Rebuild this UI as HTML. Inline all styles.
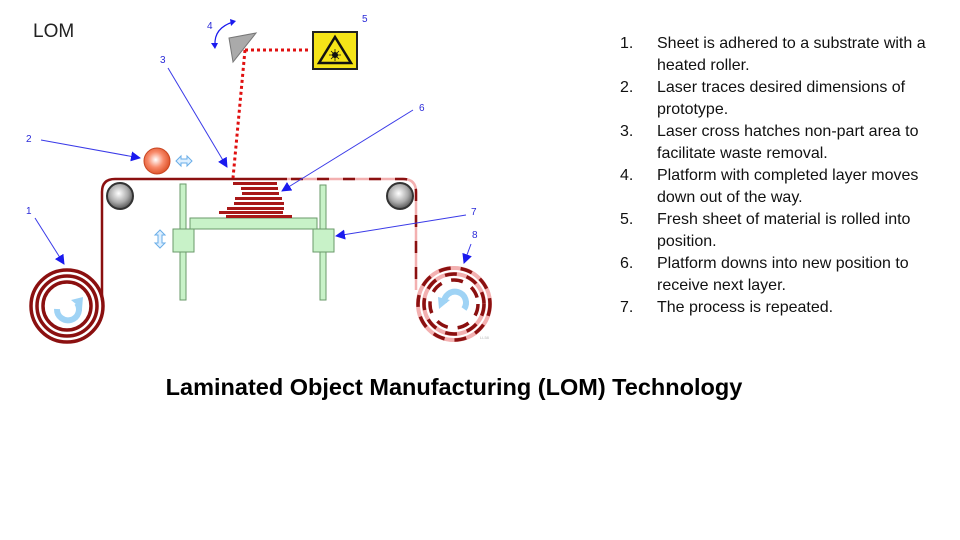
<!DOCTYPE html>
<html><head><meta charset="utf-8"><style>
html,body{margin:0;padding:0;background:#fff;}
svg{display:block;}
</style></head><body>
<svg width="960" height="540" viewBox="0 0 960 540" xmlns="http://www.w3.org/2000/svg" font-family="Liberation Sans, sans-serif">
<defs>
<radialGradient id="gr" cx="0.45" cy="0.4" r="0.6"><stop offset="0" stop-color="#fff"/><stop offset="0.6" stop-color="#aaa"/><stop offset="1" stop-color="#555"/></radialGradient>
<radialGradient id="orr" cx="0.45" cy="0.45" r="0.6"><stop offset="0" stop-color="#fff"/><stop offset="0.5" stop-color="#f88a6a"/><stop offset="1" stop-color="#d94a20"/></radialGradient>
<marker id="ah" markerWidth="10" markerHeight="10" refX="9" refY="5" orient="auto" markerUnits="userSpaceOnUse"><path d="M0,0 L10,5 L0,10 z" fill="#1a1aee"/></marker>
</defs>
<text x="33" y="37" font-size="19" fill="#222">LOM</text>

<!-- left spool -->
<g fill="none" stroke="#8b1010" stroke-width="3.5">
<circle cx="67" cy="306" r="36"/><circle cx="67" cy="306" r="30"/><circle cx="67" cy="306" r="24"/>
</g>
<path d="M57,309 a11,11 0 1 0 20,-6" fill="none" stroke="#9fd3f5" stroke-width="6"/>
<path d="M71,300 l12,-3 l-1,12 z" fill="#9fd3f5"/>
<!-- right spool -->
<circle cx="454" cy="304" r="36" fill="none" stroke="#f3b0b0" stroke-width="4"/>
<circle cx="454" cy="304" r="30" fill="none" stroke="#f3b0b0" stroke-width="4"/>
<g fill="none" stroke="#8b1010" stroke-width="3.5" stroke-dasharray="12 10">
<circle cx="454" cy="304" r="36"/><circle cx="454" cy="304" r="30"/><circle cx="454" cy="304" r="24"/>
</g>
<path d="M464,309 a11,11 0 1 0 -20,-6" fill="none" stroke="#9fd3f5" stroke-width="6"/>
<path d="M450,300 l-12,-3 l1,12 z" fill="#9fd3f5"/>

<!-- web -->
<path d="M102,300 L102,192 Q102,179 115,179 L287,179" fill="none" stroke="#8b1010" stroke-width="2.5"/>
<path d="M287,179 L403,179 Q416,179 416,192 L416,290" fill="none" stroke="#f3b0b0" stroke-width="2.5"/>
<path d="M287,179 L403,179 Q416,179 416,192 L416,290" fill="none" stroke="#8b1010" stroke-width="2.5" stroke-dasharray="12 14" stroke-dashoffset="-30"/>
<circle cx="120" cy="196" r="13" fill="url(#gr)" stroke="#333" stroke-width="2"/>
<circle cx="400" cy="196" r="13" fill="url(#gr)" stroke="#333" stroke-width="2"/>
<circle cx="157" cy="161" r="13" fill="url(#orr)" stroke="#c84420" stroke-width="1"/>
<path d="M176,161 l5,-5 v3 h6 v-3 l5,5 l-5,5 v-3 h-6 v3 z" fill="#dff0ff" stroke="#6aaee8" stroke-width="1"/>

<!-- posts, platform -->
<g fill="#c8f2c8" stroke="#6a9a6a" stroke-width="1">
<rect x="180" y="184" width="6" height="116"/>
<rect x="320" y="185" width="6" height="115"/>
<rect x="190" y="218" width="127" height="11"/>
<rect x="173" y="229" width="21" height="23"/>
<rect x="313" y="229" width="21" height="23"/>
</g>
<path d="M160,230 l-5,5 h3 v8 h-3 l5,5 l5,-5 h-3 v-8 h3 z" fill="#dff0ff" stroke="#6aaee8" stroke-width="1"/>

<!-- stack -->
<g fill="#a81818">
<rect x="233" y="182" width="44" height="3"/>
<rect x="241" y="187" width="37" height="3"/>
<rect x="242" y="192" width="37" height="3"/>
<rect x="235" y="197" width="47" height="3"/>
<rect x="234" y="202" width="50" height="3"/>
<rect x="227" y="207" width="57" height="3"/>
<rect x="219" y="211" width="64" height="3"/>
<rect x="226" y="215" width="66" height="3"/>
</g>

<!-- mirror, laser -->
<path d="M229,38 L256,33 L233,62 z" fill="#aaa" stroke="#777" stroke-width="1"/>
<path d="M245,50 L310,50 M245,50 L233,178" stroke="#e01010" stroke-width="3" stroke-dasharray="3 3" fill="none"/>
<rect x="313" y="32" width="44" height="37" fill="#f5e418" stroke="#222" stroke-width="2"/>
<path d="M335,37 L351,63 L319,63 z" fill="none" stroke="#111" stroke-width="2.5"/>
<circle cx="335" cy="55" r="3" fill="#111"/>
<path d="M335,49 v12 M329,55 h12 M331,51 l8,8 M339,51 l-8,8" stroke="#111" stroke-width="0.8"/>
<path d="M215,45 Q214,28 233,22" fill="none" stroke="#1a1aee" stroke-width="1.2"/>
<path d="M211,43 l4,6 l3,-6 z M230,19 l6,2 l-5,5 z" fill="#1a1aee"/>

<!-- leader lines -->
<g stroke="#3a3ae8" stroke-width="1" fill="none" marker-end="url(#ah)">
<line x1="41" y1="140" x2="140" y2="158"/>
<line x1="35" y1="218" x2="64" y2="264"/>
<line x1="168" y1="68" x2="227" y2="167"/>
<line x1="413" y1="110" x2="282" y2="191"/>
<line x1="466" y1="215" x2="336" y2="236"/>
<line x1="471" y1="244" x2="464" y2="263"/>
</g>
<g fill="#2a2ad8" font-size="10">
<text x="26" y="142">2</text><text x="26" y="214">1</text>
<text x="160" y="63">3</text><text x="207" y="29">4</text>
<text x="362" y="22">5</text><text x="419" y="111">6</text>
<text x="471" y="215">7</text><text x="472" y="238">8</text>
</g>
<text x="480" y="339" font-size="4" fill="#bbb">LL58</text>

<!-- list -->
<g font-size="16" fill="#111">
<text x="620" y="48">1.</text><text x="657" y="48">Sheet is adhered to a substrate with a</text>
<text x="657" y="70">heated roller.</text>
<text x="620" y="92">2.</text><text x="657" y="92">Laser traces desired dimensions of</text>
<text x="657" y="114">prototype.</text>
<text x="620" y="136">3.</text><text x="657" y="136">Laser cross hatches non-part area to</text>
<text x="657" y="158">facilitate waste removal.</text>
<text x="620" y="180">4.</text><text x="657" y="180">Platform with completed layer moves</text>
<text x="657" y="202">down out of the way.</text>
<text x="620" y="224">5.</text><text x="657" y="224">Fresh sheet of material is rolled into</text>
<text x="657" y="246">position.</text>
<text x="620" y="268">6.</text><text x="657" y="268">Platform downs into new position to</text>
<text x="657" y="290">receive next layer.</text>
<text x="620" y="312">7.</text><text x="657" y="312">The process is repeated.</text>
</g>
<text x="454" y="395" font-size="23.5" font-weight="bold" text-anchor="middle" fill="#000">Laminated Object Manufacturing (LOM) Technology</text>
</svg>
</body></html>
